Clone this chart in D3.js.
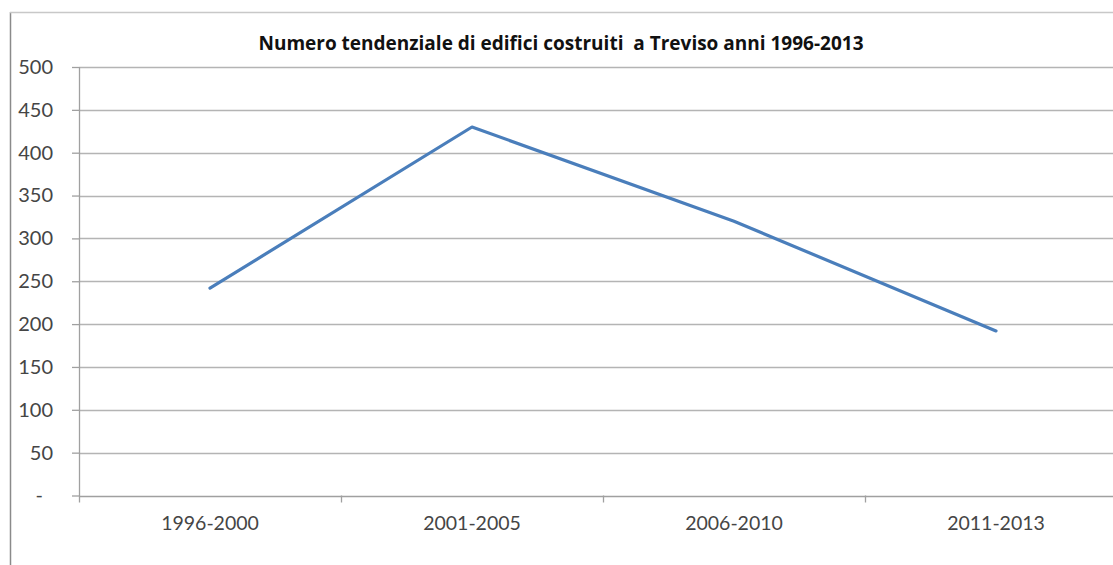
<!DOCTYPE html>
<html>
<head>
<meta charset="utf-8">
<script src="https://cdn.jsdelivr.net/npm/d3@7"></script>
<style>
  html, body { margin: 0; padding: 0; background: #fff; }
  svg { display: block; }
</style>
</head>
<body>
<svg id="chart" width="1113" height="565"></svg>
<script>
// Buildings built in Treviso, trend by period
const titleText = "Numero tendenziale di edifici costruiti  a Treviso anni 1996-2013";
const periods = ["1996-2000", "2001-2005", "2006-2010", "2011-2013"];
const buildings = [242, 430, 320, 192];
const yTicks = [0, 50, 100, 150, 200, 250, 300, 350, 400, 450, 500];

const svg = d3.select("#chart");
const W = 1113, H = 565;
const plot = { left: 79, right: 1127, top: 67, bottom: 495.5 };

// chart frame (left and top edges visible)
svg.append("line").attr("x1", 10.5).attr("x2", 10.5).attr("y1", 12).attr("y2", H)
  .attr("stroke", "#8a8a8a").attr("stroke-width", 1.5);
svg.append("line").attr("x1", 10).attr("x2", W).attr("y1", 12.5).attr("y2", 12.5)
  .attr("stroke", "#c8c8c8").attr("stroke-width", 1.5);

const x = d3.scaleBand().domain(periods).range([plot.left, plot.right]);
const y = d3.scaleLinear().domain([0, 500]).range([plot.bottom, plot.top]);

// horizontal gridlines
svg.append("g").selectAll("line").data(yTicks.filter(v => v > 0)).join("line")
  .attr("x1", plot.left).attr("x2", plot.right)
  .attr("y1", d => Math.round(y(d)) + 0.5).attr("y2", d => Math.round(y(d)) + 0.5)
  .attr("stroke", "#b4b4b4").attr("stroke-width", 1.3);

// y axis ("-" for zero, accounting style)
const yAxis = d3.axisLeft(y).tickValues(yTicks).tickSize(7).tickPadding(19)
  .tickFormat(d => d === 0 ? "-" : d3.format("d")(d));
const gy = svg.append("g").attr("transform", `translate(${plot.left},0)`).call(yAxis);
gy.select(".domain").remove();
gy.selectAll(".tick line").attr("stroke", "#a0a0a0").attr("stroke-width", 1.3);
gy.selectAll(".tick text").attr("fill", "#454545")
  .style("font-family", "Lato, 'Open Sans', sans-serif").style("font-size", "20px");
gy.selectAll(".tick text").filter(d => d === 0).attr("dx", -10);
svg.append("line").attr("x1", plot.left + 0.5).attr("x2", plot.left + 0.5)
  .attr("y1", plot.top).attr("y2", plot.bottom + 7)
  .attr("stroke", "#a0a0a0").attr("stroke-width", 1.3);

// x axis
const xAxis = d3.axisBottom(x).tickSize(0).tickPadding(21);
const gx = svg.append("g").attr("transform", `translate(0,${plot.bottom})`).call(xAxis);
gx.select(".domain").remove();
gx.selectAll(".tick text").attr("fill", "#454545")
  .style("font-family", "Lato, 'Open Sans', sans-serif").style("font-size", "19.5px");
svg.append("line").attr("x1", plot.left).attr("x2", plot.right)
  .attr("y1", Math.round(plot.bottom) + 0.5).attr("y2", Math.round(plot.bottom) + 0.5)
  .attr("stroke", "#a0a0a0").attr("stroke-width", 1.3);
// category boundary ticks
svg.append("g").selectAll("line").data(periods.slice(1)).join("line")
  .attr("x1", d => x(d) + 0.5).attr("x2", d => x(d) + 0.5)
  .attr("y1", plot.bottom).attr("y2", plot.bottom + 7)
  .attr("stroke", "#a0a0a0").attr("stroke-width", 1.3);

// series line
const line = d3.line()
  .x((d, i) => x(periods[i]) + x.bandwidth() / 2)
  .y(d => y(d));
svg.append("path").datum(buildings)
  .attr("d", line)
  .attr("fill", "none")
  .attr("stroke", "#4a7ebb")
  .attr("stroke-width", 3.2)
  .attr("stroke-linejoin", "round")
  .attr("stroke-linecap", "round");

// title
svg.append("text").attr("x", 561).attr("y", 50)
  .attr("text-anchor", "middle")
  .style("font-family", "'Open Sans', Lato, sans-serif")
  .style("font-weight", "bold").style("font-size", "19px")
  .style("white-space", "pre")
  .attr("fill", "#111")
  .text(titleText);
</script>
</body>
</html>
